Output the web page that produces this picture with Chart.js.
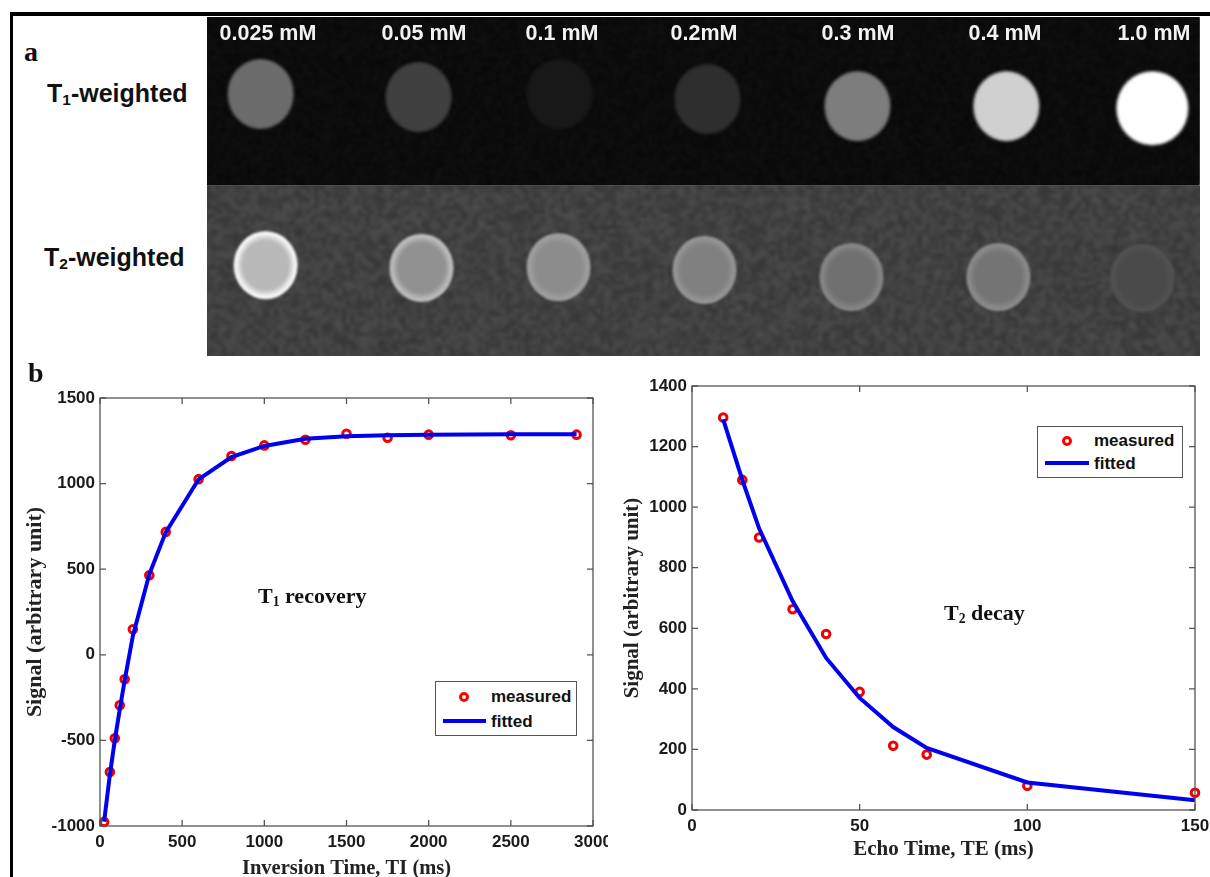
<!DOCTYPE html>
<html>
<head>
<meta charset="utf-8">
<title>T1 and T2 phantom</title>
<script src="https://cdn.jsdelivr.net/npm/chart.js@4"></script>
<style>
  html, body { margin: 0; background: #fff; width: 1210px; height: 877px; overflow: hidden; }
  canvas { position: absolute; display: block; }
  .rule { position: absolute; background: #000; }
  .txt { position: absolute; white-space: nowrap; line-height: 1; color: #111; }
  .panel { font: bold 28px "Liberation Serif", serif; }
  .row { font: bold 25px "Liberation Sans", sans-serif; transform: translateY(-50%); }
  .row sub, .note sub { font-size: 62%; line-height: 0; vertical-align: -0.25em; }
  .conc { font: bold 21.5px "Liberation Sans", sans-serif; color: #f2f2f2; transform: translate(-50%, -50%); }
  .note { font: bold 22px "Liberation Serif", serif; transform: translateY(-50%); }
  .legend { position: absolute; border: 1px solid #555; background: #fff; box-sizing: border-box; }
  .legend i { position: absolute; display: block; }
  .legend .dot { width: 10px; height: 10px; box-sizing: border-box; border: 3px solid #f00; border-radius: 50%; }
  .legend .dash { height: 4px; background: #0000ee; }
  .legend span { position: absolute; font: bold 17px "Liberation Sans", sans-serif; line-height: 1; color: #111; }
</style>
</head>
<body>
<div class="rule" style="left:10px;top:12px;width:1200px;height:3.5px"></div>
<div class="rule" style="left:10px;top:12px;width:3px;height:865px"></div>

<canvas id="phantom" width="993" height="339" style="left:207px;top:17px"></canvas>
<canvas id="t1Chart" width="586" height="501" style="left:22px;top:380px"></canvas>
<canvas id="t2Chart" width="590" height="492" style="left:620px;top:370px"></canvas>

<div class="txt panel" style="left:24px;top:36px">a</div>
<div class="txt panel" style="left:28px;top:357px">b</div>
<div class="txt row" style="left:47px;top:93px">T<sub>1</sub>-weighted</div>
<div class="txt row" style="left:44px;top:257px">T<sub>2</sub>-weighted</div>
<div class="txt note" style="left:258px;top:596px">T<sub>1</sub> recovery</div>
<div class="txt note" style="left:944px;top:613px">T<sub>2</sub> decay</div>

<div class="legend" style="left:435px;top:681px;width:142px;height:55px">
  <i class="dot" style="left:23px;top:10px"></i><span style="left:55px;top:6px">measured</span>
  <i class="dash" style="left:7px;top:37px;width:43px"></i><span style="left:55px;top:31px">fitted</span>
</div>
<div class="legend" style="left:1037px;top:426px;width:146px;height:52px">
  <i class="dot" style="left:24px;top:9px"></i><span style="left:56px;top:5px">measured</span>
  <i class="dash" style="left:7px;top:34px;width:44px"></i><span style="left:56px;top:28px">fitted</span>
</div>

<script>
// concentrations and the two weighted rows of the phantom
const concLabels = ["0.025 mM", "0.05 mM", "0.1 mM", "0.2mM", "0.3 mM", "0.4 mM", "1.0 mM"];
const concLabelLeft = [268, 424, 562, 704, 858, 1005, 1154];

// tube position in the field of view (percent) and grey level
const t1TubeX = [5.4, 21.3, 35.5, 50.4, 65.5, 80.5, 95.2];
const t1TubeY = [22.7, 23.6, 22.7, 24.2, 26.3, 26.3, 26.9];
const t1Grey = [108, 64, 24, 46, 125, 208, 255];
const t2TubeX = [5.9, 21.6, 35.4, 50.1, 64.9, 79.7, 94.2];
const t2TubeY = [73.2, 74.0, 73.8, 74.6, 76.7, 76.7, 77.0];
const t2Grey = [185, 145, 140, 128, 112, 116, 74];
const t2Rim = [250, 190, 160, 150, 135, 140, 82];

// T1 recovery
const tiMeasured = [25, 60, 90, 120, 150, 200, 300, 400, 600, 800, 1000, 1250, 1500, 1750, 2000, 2500, 2900];
const t1Measured = [-976, -685, -488, -295, -143, 149, 465, 718, 1026, 1161, 1223, 1256, 1291, 1268, 1286, 1282, 1286];
const t1Fitted = [-975, -700, -500, -320, -150, 110, 470, 715, 1025, 1155, 1220, 1262, 1277, 1282, 1286, 1288, 1288];

// T2 decay
const teMeasured = [9.3, 15, 20, 30, 40, 50, 60, 70, 100, 150];
const t2Measured = [1296, 1090, 900, 663, 581, 390, 212, 183, 80, 57];
const t2Fitted = [1290, 1090, 930, 690, 502, 370, 274, 205, 91, 32];

concLabels.forEach((label, i) => {
  const el = document.createElement("div");
  el.className = "txt conc";
  el.style.left = concLabelLeft[i] + "px";
  el.style.top = "33px";
  el.textContent = label;
  document.body.appendChild(el);
});

// soft edged tube, a little taller than wide
function tubeSprite(grey, rim, rx, ry, blur) {
  const c = document.createElement("canvas");
  c.width = rx * 2 + 12;
  c.height = ry * 2 + 12;
  const g = c.getContext("2d");
  const body = g.createRadialGradient(0, 0, 0, 0, 0, 1);
  body.addColorStop(0, `rgb(${grey},${grey},${grey})`);
  body.addColorStop(0.72, `rgb(${grey},${grey},${grey})`);
  body.addColorStop(0.93, `rgb(${rim},${rim},${rim})`);
  body.addColorStop(1, `rgb(${rim},${rim},${rim})`);
  g.filter = `blur(${blur}px)`;
  g.translate(c.width / 2, c.height / 2);
  g.scale(rx, ry);
  g.fillStyle = body;
  g.beginPath();
  g.arc(0, 0, 1, 0, Math.PI * 2);
  g.fill();
  return c;
}

// fixed speckle for the scanner background
function speckle(w, h, base, amp) {
  const c = document.createElement("canvas");
  c.width = w;
  c.height = h;
  const g = c.getContext("2d");
  for (let j = 0; j < h; j++) {
    for (let i = 0; i < w; i++) {
      const n = Math.sin(i * 12.9898 + j * 78.233) * 43758.5453;
      const v = Math.round(base + ((n - Math.floor(n)) - 0.5) * amp);
      g.fillStyle = `rgb(${v},${v},${v})`;
      g.fillRect(i, j, 1, 1);
    }
  }
  return c;
}

const scanBackground = {
  id: "scanBackground",
  beforeDraw(chart) {
    const ctx = chart.ctx;
    const { left, right, bottom } = chart.chartArea;
    const split = chart.scales.y.getPixelForValue(49.7);
    ctx.save();
    ctx.imageSmoothingEnabled = true;
    ctx.fillStyle = "#0c0c0c";
    ctx.fillRect(left, 0, right - left - 0.5, split);
    ctx.fillStyle = "#434343";
    ctx.fillRect(left, split, right - left, bottom - split);
    ctx.beginPath();
    ctx.rect(left, 0, right - left, split);
    ctx.save();
    ctx.clip();
    ctx.filter = "blur(1.2px)";
    ctx.drawImage(speckle(330, 56, 12, 8), left, 0, right - left - 0.5, split);
    ctx.restore();
    ctx.beginPath();
    ctx.rect(left, split, right - left, bottom - split);
    ctx.clip();
    ctx.filter = "blur(1.5px)";
    ctx.drawImage(speckle(250, 43, 65, 24), left, split, right - left, bottom - split);
    ctx.restore();
  }
};

new Chart(document.getElementById("phantom"), {
  type: "scatter",
  data: {
    datasets: [
      {
        data: t1TubeX.map((x, i) => ({ x, y: t1TubeY[i] })),
        pointStyle: t1Grey.map((v, i) => i === 6 ? tubeSprite(v, v, 36, 37, 1.5) : tubeSprite(v, v, 33, 35, 1.5))
      },
      {
        data: t2TubeX.map((x, i) => ({ x, y: t2TubeY[i] })),
        pointStyle: t2Grey.map((v, i) => tubeSprite(v, t2Rim[i], 32, 34, 1.2))
      }
    ]
  },
  options: {
    responsive: false,
    animation: false,
    events: [],
    layout: { padding: 0, autoPadding: false },
    plugins: { legend: { display: false }, tooltip: { enabled: false } },
    scales: {
      x: { display: false, min: 0, max: 100 },
      y: { display: false, min: 0, max: 100, reverse: true }
    }
  },
  plugins: [scanBackground]
});

// MATLAB style box: frame with ticks pointing inwards on all four sides
const boxAxes = {
  id: "boxAxes",
  afterDatasetsDraw(chart) {
    const { ctx, chartArea: a, scales } = chart;
    const len = 6;
    ctx.save();
    ctx.strokeStyle = "#555";
    ctx.lineWidth = 1.3;
    ctx.strokeRect(a.left, a.top, a.right - a.left, a.bottom - a.top);
    ctx.beginPath();
    scales.x.ticks.forEach(t => {
      const px = scales.x.getPixelForValue(t.value);
      ctx.moveTo(px, a.bottom); ctx.lineTo(px, a.bottom - len);
      ctx.moveTo(px, a.top); ctx.lineTo(px, a.top + len);
    });
    scales.y.ticks.forEach(t => {
      const py = scales.y.getPixelForValue(t.value);
      ctx.moveTo(a.left, py); ctx.lineTo(a.left + len, py);
      ctx.moveTo(a.right, py); ctx.lineTo(a.right - len, py);
    });
    ctx.stroke();
    ctx.restore();
  }
};

function signalChart(id, o) {
  const tickFont = { family: "'Liberation Sans', sans-serif", weight: "bold", size: 17 };
  const serif = "'Liberation Serif', serif";
  return new Chart(document.getElementById(id), {
    type: "scatter",
    data: {
      datasets: [
        {
          label: "measured",
          data: o.xs.map((x, i) => ({ x, y: o.measured[i] })),
          pointRadius: 3.8,
          pointBorderWidth: 3,
          pointBorderColor: "#f00000",
          pointBackgroundColor: "rgba(255,255,255,0)",
          clip: false,
          order: 2
        },
        {
          label: "fitted",
          data: o.xs.map((x, i) => ({ x, y: o.fitted[i] })),
          showLine: true,
          tension: 0,
          borderColor: "#0000ee",
          borderWidth: 4,
          pointRadius: 0,
          clip: false,
          order: 1
        }
      ]
    },
    options: {
      responsive: false,
      animation: false,
      events: [],
      layout: { autoPadding: false, padding: { top: o.padTop, right: o.padRight, left: 0, bottom: 0 } },
      plugins: { legend: { display: false }, tooltip: { enabled: false } },
      scales: {
        x: {
          min: o.xMin, max: o.xMax,
          grid: { display: false, drawTicks: false }, border: { display: false },
          ticks: { stepSize: o.xStep, font: tickFont, color: "#1a1a1a", padding: 6, maxRotation: 0, autoSkip: false, callback: v => String(v) },
          title: { display: true, text: o.xTitle, font: { family: serif, weight: "bold", size: o.xTitleSize }, color: "#222", padding: 0 },
          afterFit(s) { s.height = o.xAxisSize; s.paddingLeft = s.paddingRight = 0; }
        },
        y: {
          min: o.yMin, max: o.yMax,
          grid: { display: false, drawTicks: false }, border: { display: false },
          ticks: { stepSize: o.yStep, font: tickFont, color: "#1a1a1a", padding: 5, autoSkip: false, callback: v => String(v) },
          title: { display: true, text: "Signal (arbitrary unit)", font: { family: serif, weight: "bold", size: o.yTitleSize }, color: "#222", padding: 0 },
          afterFit(s) { s.width = o.yAxisSize; s.paddingTop = s.paddingBottom = 0; }
        }
      }
    },
    plugins: [boxAxes]
  });
}

signalChart("t1Chart", {
  xs: tiMeasured, measured: t1Measured, fitted: t1Fitted,
  xMin: 0, xMax: 3000, xStep: 500, yMin: -1000, yMax: 1500, yStep: 500,
  xTitle: "Inversion Time, TI (ms)", xTitleSize: 20.5, yTitleSize: 22,
  padTop: 18, padRight: 15, xAxisSize: 55, yAxisSize: 78
});

signalChart("t2Chart", {
  xs: teMeasured, measured: t2Measured, fitted: t2Fitted,
  xMin: 0, xMax: 150, xStep: 50, yMin: 0, yMax: 1400, yStep: 200,
  xTitle: "Echo Time, TE (ms)", xTitleSize: 21, yTitleSize: 21,
  padTop: 16, padRight: 15, xAxisSize: 52, yAxisSize: 72
});
</script>
</body>
</html>
